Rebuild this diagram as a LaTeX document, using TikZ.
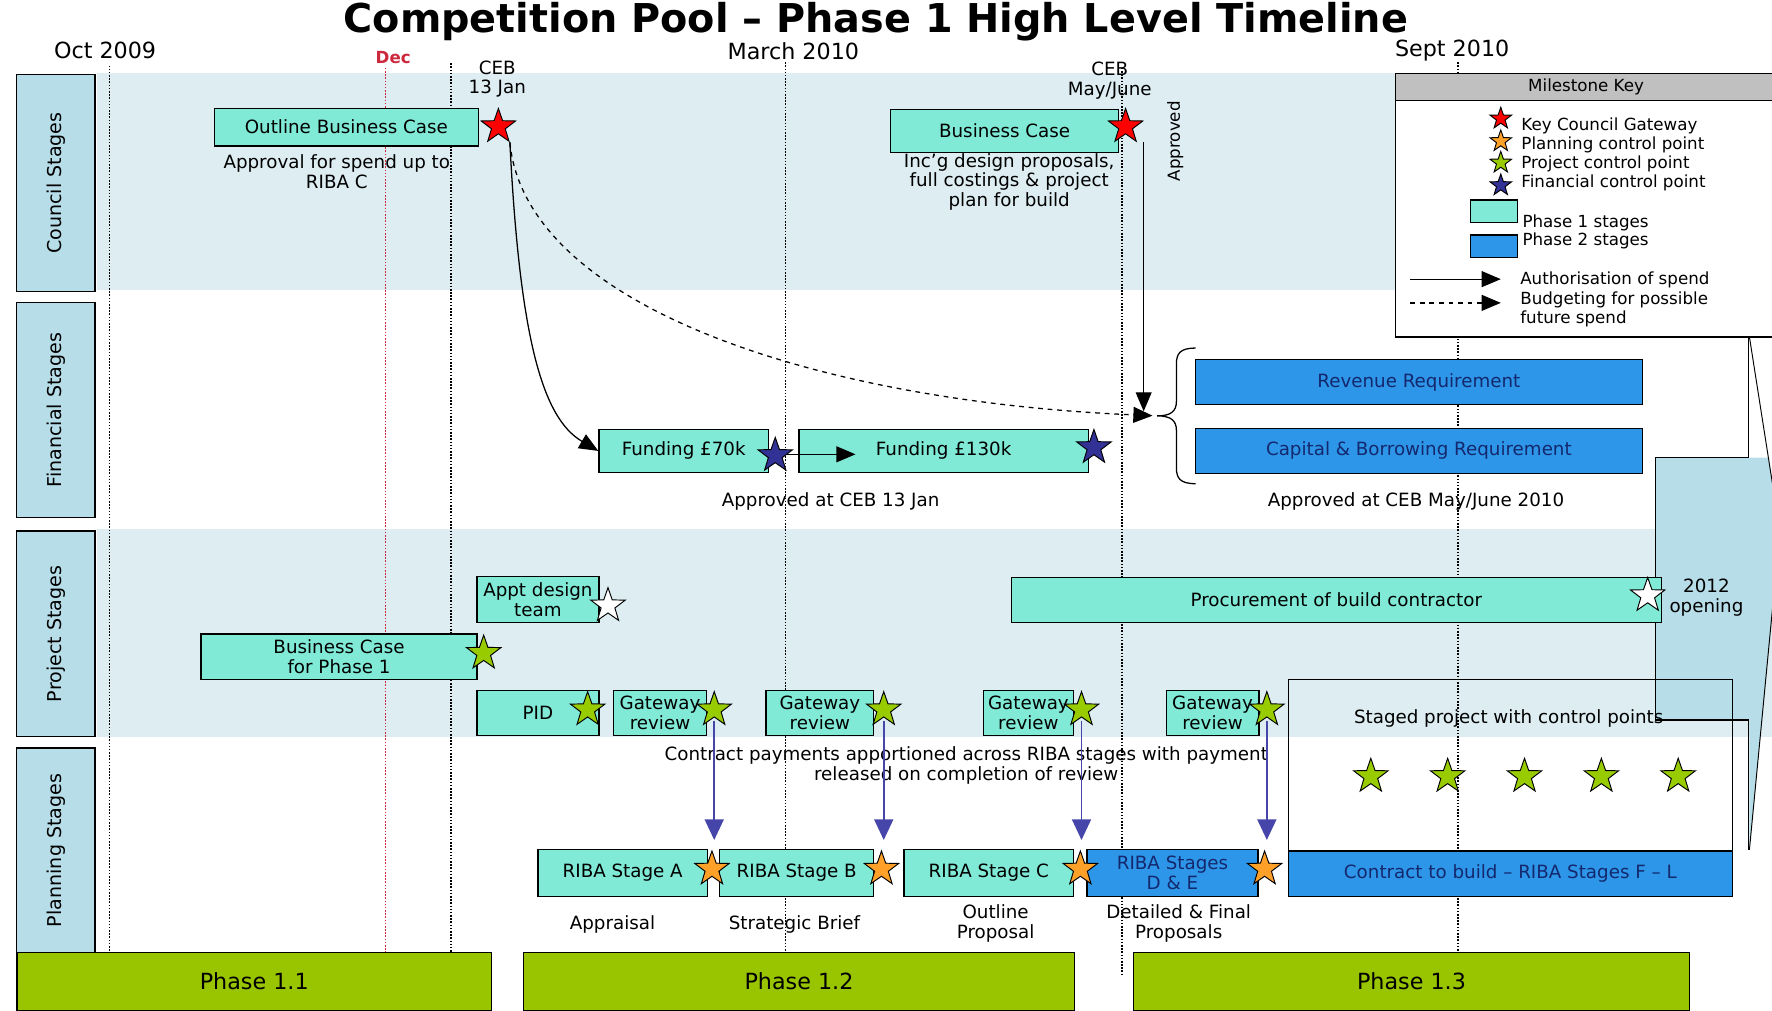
\documentclass[tikz,border=0pt]{standalone}
\usepackage{fontspec}
\setmainfont{DejaVu Sans}
\usetikzlibrary{shapes.geometric,arrows.meta}

\definecolor{phaseone}{RGB}{128,234,214}
\definecolor{phasetwo}{RGB}{45,150,232}
\definecolor{lanefill}{RGB}{183,221,232}
\definecolor{bandfill}{RGB}{221,237,242}
\definecolor{phasegreen}{RGB}{153,196,0}
\definecolor{keygray}{RGB}{192,192,192}
\definecolor{decred}{RGB}{205,40,60}
\definecolor{payblue}{RGB}{70,70,170}
\definecolor{starred}{RGB}{255,0,0}
\definecolor{starorange}{RGB}{255,160,40}
\definecolor{stargreen}{RGB}{153,204,0}
\definecolor{starblue}{RGB}{50,50,150}
\definecolor{navytext}{RGB}{20,40,110}

\newcommand{\titlefont}{\fontsize{25}{28}\selectfont\bfseries}
\newcommand{\datefont}{\fontsize{14}{15}\selectfont}
\newcommand{\decfont}{\fontsize{10.5}{12}\selectfont\bfseries}
\newcommand{\boxfont}{\fontsize{11.5}{12.5}\selectfont}
\newcommand{\lanefont}{\fontsize{12}{13}\selectfont}
\newcommand{\phasefont}{\fontsize{14}{15}\selectfont}
\newcommand{\keyfont}{\fontsize{10.5}{12}\selectfont}

\tikzstyle{stageone}=[draw,line width=0.8pt,fill=phaseone,align=center,inner sep=1pt,font=\boxfont]
\tikzstyle{stagetwo}=[stageone,fill=phasetwo,text=navytext]
\tikzstyle{lanebox}=[draw,line width=0.8pt,fill=lanefill,rotate=90,font=\lanefont,minimum height=1.73cm]
\tikzstyle{phasebar}=[draw,line width=0.8pt,fill=phasegreen,minimum height=1.28cm,font=\phasefont]
\tikzstyle{mstar}=[star,star points=5,star point ratio=2.5,draw,line width=0.6pt,inner sep=0pt,minimum size=0.8cm]
\tikzstyle{keystar}=[mstar,minimum size=0.5cm]
\tikzstyle{note}=[align=center,font=\boxfont,inner sep=0pt]
\tikzstyle{keytext}=[anchor=west,align=left,font=\keyfont,inner sep=0pt]
\tikzstyle{monthline}=[densely dotted,line width=1pt]
\tikzstyle{authline}=[line width=0.8pt,-{Triangle[length=12pt,width=10pt]}]
\tikzstyle{budgetline}=[authline,dashed]
\tikzstyle{payline}=[draw=payblue,line width=1pt,-{Triangle[length=13pt,width=12pt]},shorten <=2pt,shorten >=6pt]

\begin{document}
\begin{tikzpicture}[x=0.025cm,y=-0.025cm]
    \useasboundingbox (0,0) rectangle (1568,894);

    \fill[bandfill] (86,65) rectangle (1568,257);
    \fill[bandfill] (86,468) rectangle (1568,652);

    \foreach \x/\top/\bot in {97/58/843,399/56/843,695/55/843,993/60/862,1290/55/843}
    \draw[monthline] (\x,\top) -- (\x,\bot);
    \draw[monthline,draw=decred] (341,60) -- (341,843);

    \fill[lanefill] (1465,405) -- (1565,405) -- (1575,470) -- (1548,752) -- (1548,637) -- (1465,637) -- cycle;
    \draw[line width=0.8pt] (1547,290) -- (1547,405) -- (1465,405) -- (1465,637) -- (1547,637) -- (1547,752);
    \draw[line width=0.6pt] (1548,298) -- (1575,470) -- (1548,752);

    \node[font=\titlefont] (title) at (775,19) {Competition Pool – Phase 1 High Level Timeline};
    \node[font=\datefont] (oct) at (93,45) {Oct 2009};
    \node[font=\decfont,text=decred] (dec) at (348,51) {Dec};
    \node[font=\datefont] (march) at (702,45) {March 2010};
    \node[font=\datefont] (sept) at (1285,45) {Sept 2010};

    \node[lanebox,minimum width=4.8cm] (council) at (49.5,162) {Council Stages};
    \node[lanebox,minimum width=4.75cm] (financial) at (49.5,363) {Financial Stages};
    \node[lanebox,minimum width=4.55cm] (project) at (49.5,561) {Project Stages};
    \node[lanebox,minimum width=4.53cm] (planning) at (49.5,752.5) {Planning Stages};

    \node[phasebar,minimum width=10.5cm] (ph11) at (225,868.5) {Phase 1.1};
    \node[phasebar,minimum width=12.2cm] (ph12) at (707,868.5) {Phase 1.2};
    \node[phasebar,minimum width=12.3cm] (ph13) at (1249,868.5) {Phase 1.3};

    \node[stageone,minimum width=5.83cm,minimum height=0.83cm] (obc) at (306.5,112.5) {Outline Business Case};
    \node[stageone,minimum width=5.05cm,minimum height=0.95cm] (bc) at (889,116) {Business Case};
    \node[note] (ceb1) at (440,70) {CEB\\13 Jan};
    \node[note] (ceb2) at (982,71) {CEB\\May/June};
    \node[note] (obcnote) at (298,152) {Approval for spend up to\\RIBA C};
    \node[note] (bcnote) at (893,161) {Inc'g design proposals,\\full costings \& project\\plan for build};
    \node[note,font=\keyfont,rotate=90] (approved) at (1040,125) {Approved};

    \node[stagetwo,minimum width=9.88cm,minimum height=1cm] (rev) at (1255.5,338) {Revenue Requirement};
    \node[stagetwo,minimum width=9.88cm,minimum height=1cm] (capreq) at (1255.5,399) {Capital \& Borrowing Requirement};
    \node[stageone,minimum width=3.75cm,minimum height=0.95cm] (f70) at (605,399) {Funding £70k};
    \node[stageone,minimum width=6.4cm,minimum height=0.95cm] (f130) at (835,399) {Funding £130k};
    \node[note] (f1note) at (735,444) {Approved at CEB 13 Jan};
    \node[note] (f2note) at (1253,444) {Approved at CEB May/June 2010};

    \node[stageone,minimum width=2.7cm,minimum height=1.03cm] (appt) at (476,530.5) {Appt design\\team};
    \node[stageone,minimum width=6.1cm,minimum height=1cm] (bcp1) at (300,581) {Business Case\\for Phase 1};
    \node[stageone,minimum width=2.7cm,minimum height=1cm] (pid) at (476,631) {PID};
    \node[stageone,minimum width=14.38cm,minimum height=1cm] (proc) at (1182.5,531) {Procurement of build contractor};
    \node[note] (opening) at (1510,529) {2012\\opening};

    \foreach \n/\x/\w/\s in {1/584/2.05/632,2/725.5/2.38/782,3/910/2.0/957,4/1073/2.05/1121}{
      \node[stageone,minimum width=\w cm,minimum height=1cm] (gw\n) at (\x,631) {Gateway\\review};
      \node[mstar,fill=stargreen] (sgw\n) at (\s,628) {};
    }

    \node[draw,line width=0.8pt,minimum width=9.83cm,minimum height=4.8cm] (staged) at (1336.5,697) {};
    \node[note] (stagednote) at (1335,636) {Staged project with control points};
    \node[stagetwo,minimum width=9.83cm,minimum height=1cm] (contract) at (1336.5,773) {Contract to build – RIBA Stages F – L};
    \foreach \x in {1213,1281,1349,1417,1485}
    \node[mstar,fill=stargreen] (ss\x) at (\x,687) {};

    \node[note] (paynote) at (855,677) {Contract payments apportioned across RIBA stages with payment\\released on completion of review};
    \node[stageone,minimum width=3.75cm,minimum height=1.03cm] (ra) at (551,772.5) {RIBA Stage A};
    \node[stageone,minimum width=3.4cm,minimum height=1.03cm] (rb) at (705,772.5) {RIBA Stage B};
    \node[stageone,minimum width=3.75cm,minimum height=1.03cm] (rc) at (875,772.5) {RIBA Stage C};
    \node[stagetwo,minimum width=3.78cm,minimum height=1.03cm] (rde) at (1037.5,772.5) {RIBA Stages\\D \& E};
    \node[note] (ranote) at (542,818) {Appraisal};
    \node[note] (rbnote) at (703,818) {Strategic Brief};
    \node[note] (rcnote) at (881,817) {Outline\\Proposal};
    \node[note] (rdenote) at (1043,817) {Detailed \& Final\\Proposals};

    \node[mstar,fill=starred] (sobc) at (441,112) {};
    \node[mstar,fill=starred] (sbc) at (996,112) {};
    \node[mstar,fill=starblue] (s70) at (686,403) {};
    \node[mstar,fill=starblue] (s130) at (968,396) {};
    \node[mstar,fill=white] (sappt) at (538,536) {};
    \node[mstar,fill=stargreen] (sbcp1) at (428,578) {};
    \node[mstar,fill=stargreen] (spid) at (520,628) {};
    \node[mstar,fill=white] (sproc) at (1458,527) {};
    \node[mstar,fill=starorange] (sra) at (630,769) {};
    \node[mstar,fill=starorange] (srb) at (780,769) {};
    \node[mstar,fill=starorange] (src) at (956,769) {};
    \node[mstar,fill=starorange] (srde) at (1119,769) {};

    \coordinate (btip) at (1024,368);
    \draw[line width=0.8pt] (1058,308) .. controls (1044,308) and (1041,313) .. (1041,322) -- (1041,355)
      .. controls (1041,364) and (1036,368) .. (btip) .. controls (1036,368) and (1041,372) .. (1041,381)
      -- (1041,414) .. controls (1041,423) and (1044,428) .. (1058,428);

    \draw[authline] (sobc.outer point 4) .. controls (460,300) and (480,370) .. (f70.west);
    \draw[budgetline,shorten >=3pt] (sobc.outer point 4) .. controls (465,270) and (720,355) .. (btip);
    \coordinate (bcdrop) at (1012,364);
    \draw[authline] (sbc.outer point 4 -| bcdrop) -- (bcdrop);
    \coordinate (f130in) at (757,402);
    \draw[authline] (s70.east |- f130in) -- (f130in);

    \foreach \g/\r in {1/ra,2/rb,3/rc,4/rde}
    \draw[payline] (sgw\g.south) -- (sgw\g.south |- s\r.north);

    \node[draw,line width=1pt,fill=white,minimum width=8.43cm,minimum height=5.8cm] (key) at (1403.5,182) {};
    \node[draw,line width=1pt,fill=keygray,minimum width=8.43cm,minimum height=0.55cm,font=\keyfont] (keyhead) at (1403.5,77) {Milestone Key};
    \foreach \c/\y/\ty/\t in {starred/105/111/Key Council Gateway,starorange/125/128/Planning control point,stargreen/144/145/Project control point,starblue/164/162/Financial control point}{
      \node[keystar,fill=\c] (ks\y) at (1328,\y) {};
      \node[keytext] (kt\y) at (1346,\ty) {\t};
    }
    \node[draw,line width=0.8pt,fill=phaseone,minimum width=1.05cm,minimum height=0.5cm] (kp1) at (1322,187) {};
    \node[draw,line width=0.8pt,fill=phasetwo,minimum width=1.05cm,minimum height=0.5cm] (kp2) at (1322,218) {};
    \node[keytext] (kp1t) at (1347,197) {Phase 1 stages};
    \node[keytext] (kp2t) at (1347,213) {Phase 2 stages};
    \coordinate (ka1) at (1248,247);
    \coordinate (kb1) at (1328,247);
    \draw[authline] (ka1) -- (kb1);
    \coordinate (ka2) at (1248,268);
    \coordinate (kb2) at (1328,268);
    \draw[budgetline] (ka2) -- (kb2);
    \node[keytext] (kat) at (1345,248) {Authorisation of spend};
    \node[keytext] (kbt) at (1345,274) {Budgeting for possible\\future spend};
\end{tikzpicture}
\end{document}
